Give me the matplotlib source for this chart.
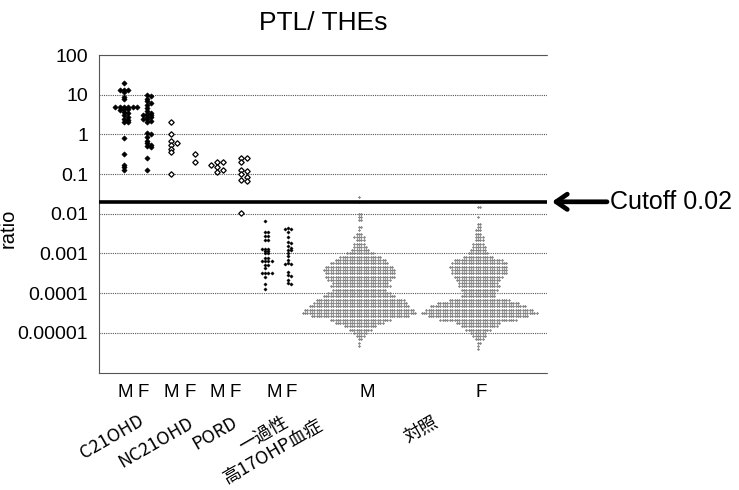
import numpy as np
import matplotlib
matplotlib.use("Agg")
import matplotlib.pyplot as plt
import matplotlib.transforms as mtransforms
from matplotlib.ticker import NullLocator

# ---- data: PTL/THEs ratio per patient ----
c21_m = [20, 13, 13, 13, 11.5, 9, 8, 5, 5, 5, 5, 5, 5, 4.3, 4.3, 4.0,
         3.6, 3.4, 3.0, 2.8, 2.5, 2.3, 2.1, 2.0, 0.8, 0.32, 0.17, 0.15, 0.13]
c21_f = [10, 9.5, 8, 7, 6.3, 5.5, 4.5, 3.8, 3.5, 3.3, 3.1, 3.0, 2.8, 2.7, 2.5,
         2.4, 2.2, 2.0, 1.1, 1.0, 0.85, 0.7, 0.6, 0.55, 0.5, 0.48, 0.26, 0.13]
nc21_m = [2.0, 1.0, 0.68, 0.62, 0.55, 0.42, 0.35, 0.1]
nc21_f = [0.32, 0.2]
pord_m = [0.2, 0.2, 0.17, 0.15, 0.13, 0.11]
pord_f = [0.26, 0.25, 0.2, 0.13, 0.12, 0.1, 0.085, 0.07, 0.065, 0.0105]
trans_m = [0.0065, 0.0034, 0.0034, 0.0028, 0.0028, 0.0022, 0.0022, 0.0013,
           0.0013, 0.0013, 0.00115, 0.00115, 0.001, 0.001, 0.00078, 0.00078,
           0.00065, 0.00065, 0.00065, 0.00065, 0.00051, 0.00051, 0.00042,
           0.00033, 0.00033, 0.00033, 0.00033, 0.00026, 0.00017, 0.00013]
trans_f = [0.0045, 0.0042, 0.0042, 0.0034, 0.0026, 0.0019, 0.0018, 0.0015,
           0.0014, 0.0012, 0.0012, 0.001, 0.00085, 0.0007, 0.00056, 0.00055,
           0.00055, 0.00035, 0.00028, 0.00027, 0.00022, 0.00018, 0.00017]

# controls are binned: log10(ratio) of each row and number of subjects in it
ctrl_m_log = [-1.583, -1.708, -2.0, -2.083, -2.167, -2.333, -2.417, -2.5,
              -2.583, -2.667, -2.75, -2.833, -2.917, -3.0, -3.083, -3.167,
              -3.25, -3.333, -3.417, -3.5, -3.583, -3.667, -3.75, -3.833,
              -3.917, -4.0, -4.083, -4.167, -4.25, -4.333, -4.417, -4.5,
              -4.583, -4.667, -4.75, -4.833, -4.917, -5.0, -5.083, -5.167,
              -5.25, -5.333]
ctrl_m_count = [1, 1, 2, 2, 2, 2, 1, 3, 5, 4, 5, 6, 8, 12, 18, 22, 25, 29, 31,
                30, 30, 27, 24, 26, 23, 27, 31, 38, 40, 43, 47, 49, 42, 26, 21,
                14, 10, 6, 4, 2, 1, 1]
ctrl_f_log = [-1.833, -2.083, -2.25, -2.333, -2.417, -2.5, -2.583, -2.667,
              -2.75, -2.833, -2.917, -3.0, -3.083, -3.167, -3.25, -3.333,
              -3.417, -3.5, -3.583, -3.667, -3.75, -3.833, -3.917, -4.0,
              -4.083, -4.167, -4.25, -4.333, -4.417, -4.5, -4.583, -4.667,
              -4.75, -4.833, -4.917, -5.0, -5.083, -5.167, -5.25, -5.333,
              -5.417]
ctrl_f_count = [2, 1, 2, 2, 3, 3, 4, 4, 5, 6, 7, 9, 13, 21, 24, 25, 24, 24, 21,
                19, 17, 18, 16, 14, 15, 26, 35, 41, 46, 50, 43, 33, 19, 16, 11,
                7, 6, 4, 2, 1, 1]

cutoff = 0.02
ytick_vals = [1e-5, 1e-4, 1e-3, 1e-2, 1e-1, 1, 10, 100]
ytick_text = ["0.00001", "0.0001", "0.001", "0.01", "0.1", "1", "10", "100"]
sex_labels = ["M", "F", "M", "F", "M", "F", "M", "F", "M", "F"]
group_labels = ["C21OHD", "NC21OHD", "PORD", "一過性\n高17OHP血症", "対照"]

# ---- layout (pixels) ----
W, H = 739, 490
ax_l, ax_r, ax_t, ax_b = 99, 547, 55, 372.5
ppd = (ax_b - ax_t) / 8.0          # pixels per decade


def swarm(values, xstep, ystep):
    """greedy beeswarm offsets (pixels); dots clash when closer than
    xstep sideways and ystep vertically"""
    y = np.log10(np.asarray(values, dtype=float)) * ppd
    order = np.argsort(-y, kind="stable")
    xs = np.zeros(len(y))
    px, py = np.zeros(0), np.zeros(0)
    cands = [0.0]
    for k in range(1, 60):
        cands += [k * xstep, -k * xstep]
    for i in order:
        near = np.abs(py - y[i]) < ystep - 1e-6
        nx = px[near]
        for c in cands:
            if np.all(np.abs(nx - c) >= xstep - 1e-6):
                xs[i] = c
                break
        px = np.append(px, xs[i])
        py = np.append(py, y[i])
    return xs


fig = plt.figure(figsize=(W / 100, H / 100), dpi=100)
ax = fig.add_axes([ax_l / W, 1 - ax_b / H, (ax_r - ax_l) / W, (ax_b - ax_t) / H])
ax.set_xlim(0, ax_r - ax_l)
ax.set_yscale("log")
ax.set_ylim(1e-6, 100)

ctrl_m = np.repeat(10.0 ** np.array(ctrl_m_log), ctrl_m_count)
ctrl_f = np.repeat(10.0 ** np.array(ctrl_f_log), ctrl_f_count)

filled = dict(marker="D", ms=2.7, mfc="black", mec="black", mew=0.4, ls="none")
hollow = dict(marker="D", ms=2.8, mfc="white", mec="black", mew=0.9, ls="none")
small = dict(marker="D", ms=1.7, mfc="black", mec="black", mew=0.3, ls="none")
grey = dict(marker="D", ms=1.15, mfc="#8a8a8a", mec="#6a6a6a", mew=0.3, ls="none")

groups = [
    (c21_m, 25, 4.4, 2.0, filled), (c21_f, 48, 4.4, 2.0, filled),
    (nc21_m, 72, 5.8, 3.0, hollow), (nc21_f, 96, 5.8, 3.0, hollow),
    (pord_m, 118, 5.8, 3.0, hollow), (pord_f, 142, 5.8, 3.0, hollow),
    (trans_m, 166, 3.4, 2.0, small), (trans_f, 189, 3.4, 2.0, small),
    (ctrl_m, 260, 2.35, 2.0, grey), (ctrl_f, 379, 2.35, 2.0, grey),
]
for vals, xc, xs_, ys_, style in groups:
    off = swarm(vals, xs_, ys_)
    ax.plot(xc + off, vals, zorder=3, **style)

ax.axhline(cutoff, color="black", lw=2.6, zorder=4)

# axes frame and grid
dot = (0, (1, 1))
ax.set_yticks(ytick_vals)
ax.set_yticklabels(ytick_text, fontsize=14, family="Liberation Sans")
ax.yaxis.set_minor_locator(NullLocator())
ax.tick_params(axis="y", length=0, pad=8)
ax.set_xticks([])
ax.grid(axis="y", linestyle=dot, color="#555555", lw=0.8)
for side in ["top", "bottom", "left"]:
    ax.spines[side].set_linestyle(dot)
    ax.spines[side].set_color("#555555")
    ax.spines[side].set_linewidth(0.8)
ax.spines["right"].set_visible(False)

ax.set_ylabel("ratio", fontsize=14.5, family="Liberation Sans")
ax.yaxis.set_label_coords((18 - ax_l) / (ax_r - ax_l), (ax_b - 228) / (ax_b - ax_t))
fig.text(323 / W, 1 - 23 / H, "PTL/ THEs", ha="center", va="center",
         fontsize=19, family="Liberation Sans")

# sex labels under each column
sex_x = [26, 44, 72, 91, 118, 136, 175, 192, 268, 382]
for xl, lab in zip(sex_x, sex_labels):
    ax.text(xl, (ax_b - 392) / (ax_b - ax_t), lab, transform=ax.get_xaxis_transform(),
            ha="center", va="center", fontsize=13.5, family="Liberation Sans")

# rotated group names
grp_xy = [(112, 437), (156, 443), (215, 433), (268.5, 443), (421, 429)]
for (gx, gy), lab in zip(grp_xy, group_labels):
    fig.text(gx / W, 1 - gy / H, lab, ha="center", va="center", rotation=30,
             rotation_mode="anchor", fontsize=13, linespacing=1.15,
             multialignment="center", family=["Noto Sans CJK JP", "DejaVu Sans"])

# cutoff arrow and label
blend = mtransforms.blended_transform_factory(fig.transFigure, ax.transData)
ax.annotate("", xy=(552 / W, cutoff), xytext=(607 / W, cutoff),
            xycoords=blend, textcoords=blend, annotation_clip=False,
            arrowprops=dict(arrowstyle="->,head_length=0.8,head_width=0.55",
                            lw=3.4, color="black", shrinkA=0, shrinkB=0))
ax.text(610 / W, cutoff, "Cutoff 0.02", transform=blend, ha="left", va="center",
        fontsize=18, family="Liberation Sans")

fig.savefig("out.png", dpi=100)
